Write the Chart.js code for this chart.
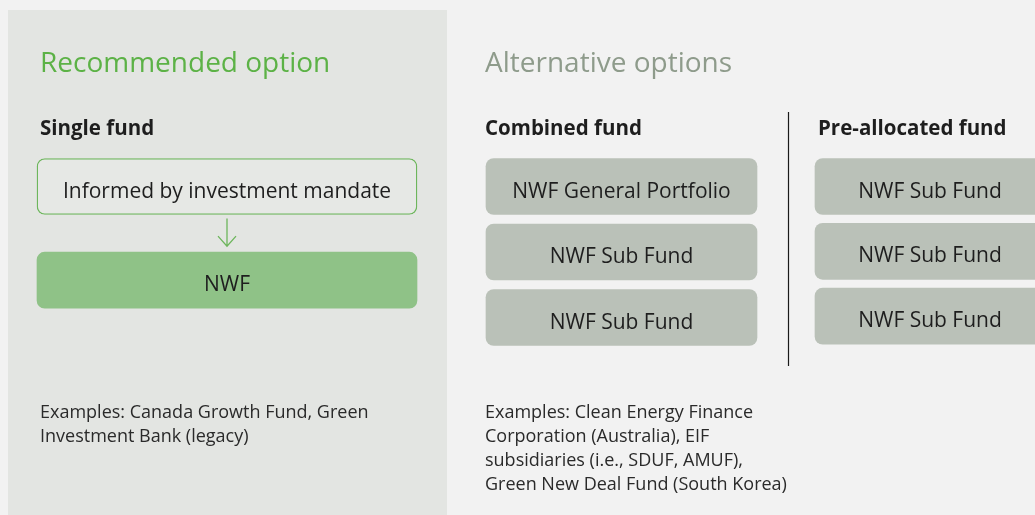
<!DOCTYPE html>
<html><head><meta charset="utf-8">
<script src="https://cdn.jsdelivr.net/npm/chart.js@4"></script>
<style>html,body{margin:0;padding:0;background:#f2f2f2;overflow:hidden}#wrap{width:1035px;height:515px}</style>
</head><body><div id="wrap"><canvas id="c" width="1035" height="515"></canvas></div>
<script>
// ---- content (data) ----
const sectionTitles = ['Recommended option', 'Alternative options'];
const columnHeaders = ['Single fund', 'Combined fund', 'Pre-allocated fund'];
const singleFundBoxes = ['Informed by investment mandate', 'NWF'];
const singleFundRows = [0, 1.43];
const combinedFundBoxes = ['NWF General Portfolio', 'NWF Sub Fund', 'NWF Sub Fund'];
const combinedFundRows = [0, 1, 2];
const preAllocatedBoxes = ['NWF Sub Fund', 'NWF Sub Fund', 'NWF Sub Fund'];
const preAllocatedRows = [0, 0.99, 1.98];
const singleFundExamples = ['Examples: Canada Growth Fund, Green', 'Investment Bank (legacy)'];
const alternativeExamples = ['Examples: Clean Energy Finance', 'Corporation (Australia), EIF', 'subsidiaries (i.e., SDUF, AMUF),', 'Green New Deal Fund (South Korea)'];

// ---- layout & style (kept apart from the data) ----
const layout = {
  width: 1035, height: 515,
  rowZero: 186.5, rowStep: 65.5,
  columns: [[37, 417], [486, 757], [815, 1045]],
  panel: { x0: 8, x1: 447, top: 10 },
  titleX: [40, 485], titleBase: 72,
  headerX: [40, 485, 818], headerBase: 135,
  exampleX: [40, 485], exampleBase: 418, exampleLine: 24,
  dividerX: 788, dividerTop: 112, dividerBottom: 366,
  boxThickness: 56, labelDrop: 11
};
const style = {
  page: '#f2f2f2', panel: '#e3e5e2', green: '#5cb246', altTitle: '#8e9b8b',
  gray: '#bac1b8', nwf: '#8fc287', outline: '#6db65c', innerFill: '#e6e8e5',
  text: '#1e1e1e', divider: '#1a1a1a', family: '"Open Sans", "Noto Sans", sans-serif',
  titleSize: 28, headerSize: 20.5, boxSize: 21, exampleSize: 18
};

function toPoints(labels, rows, col) {
  return labels.map((l, i) => ({ x: layout.columns[col], y: rows[i] }));
}

const datasets = [
  { label: 'Single fund', boxLabels: singleFundBoxes, data: toPoints(singleFundBoxes, singleFundRows, 0),
    backgroundColor: [style.innerFill, style.nwf], borderColor: [style.outline, style.nwf], borderWidth: [1.3, 0] },
  { label: 'Combined fund', boxLabels: combinedFundBoxes, data: toPoints(combinedFundBoxes, combinedFundRows, 1),
    backgroundColor: style.gray, borderWidth: 0 },
  { label: 'Pre-allocated fund', boxLabels: preAllocatedBoxes, data: toPoints(preAllocatedBoxes, preAllocatedRows, 2),
    backgroundColor: style.gray, borderWidth: 0 }
].map(d => Object.assign(d, { stack: 'all', borderRadius: 8, borderSkipped: false, barThickness: layout.boxThickness }));

const decor = {
  id: 'decor',
  beforeDraw(chart) {
    const { ctx } = chart, xs = chart.scales.x;
    ctx.save();
    ctx.fillStyle = style.page;
    ctx.fillRect(0, 0, chart.width, chart.height);
    const px0 = xs.getPixelForValue(layout.panel.x0), px1 = xs.getPixelForValue(layout.panel.x1);
    ctx.fillStyle = style.panel;
    ctx.fillRect(px0, layout.panel.top, px1 - px0, chart.height - layout.panel.top);
    ctx.restore();
  },
  afterDatasetsDraw(chart) {
    const { ctx } = chart, xs = chart.scales.x;
    ctx.save();
    // labels inside boxes
    ctx.textAlign = 'center'; ctx.textBaseline = 'alphabetic';
    ctx.fillStyle = style.text;
    ctx.font = `${style.boxSize}px ${style.family}`;
    chart.data.datasets.forEach((ds, di) => {
      chart.getDatasetMeta(di).data.forEach((el, i) => {
        const cx = (el.x + el.base) / 2;
        ctx.fillText(ds.boxLabels[i], cx, el.y + layout.labelDrop);
      });
    });
    // arrow between single-fund boxes
    const m = chart.getDatasetMeta(0).data;
    const ax = (m[0].x + m[0].base) / 2;
    const ay0 = m[0].y + m[0].height / 2 + 4, ay1 = m[1].y - m[1].height / 2 - 6;
    ctx.strokeStyle = style.outline; ctx.lineWidth = 1.3;
    ctx.beginPath();
    ctx.moveTo(ax, ay0); ctx.lineTo(ax, ay1);
    ctx.moveTo(ax - 9, ay1 - 10); ctx.lineTo(ax, ay1); ctx.lineTo(ax + 9, ay1 - 10);
    ctx.stroke();
    // divider
    const dx = Math.round(xs.getPixelForValue(layout.dividerX)) + 0.5;
    ctx.strokeStyle = style.divider; ctx.lineWidth = 1.2;
    ctx.beginPath(); ctx.moveTo(dx, layout.dividerTop); ctx.lineTo(dx, layout.dividerBottom); ctx.stroke();
    // titles
    ctx.textAlign = 'left';
    ctx.font = `${style.titleSize}px ${style.family}`;
    [style.green, style.altTitle].forEach((c, i) => {
      ctx.fillStyle = c;
      ctx.fillText(sectionTitles[i], xs.getPixelForValue(layout.titleX[i]), layout.titleBase);
    });
    // headers
    ctx.fillStyle = style.text;
    ctx.font = `bold ${style.headerSize}px ${style.family}`;
    columnHeaders.forEach((h, i) => ctx.fillText(h, xs.getPixelForValue(layout.headerX[i]), layout.headerBase));
    // examples
    ctx.font = `${style.exampleSize}px ${style.family}`;
    ctx.fillStyle = '#2a2a2a';
    [singleFundExamples, alternativeExamples].forEach((lines, i) => {
      lines.forEach((t, j) => ctx.fillText(t, xs.getPixelForValue(layout.exampleX[i]), layout.exampleBase + j * layout.exampleLine));
    });
    ctx.restore();
  }
};

new Chart(document.getElementById('c'), {
  type: 'bar',
  data: { datasets },
  options: {
    indexAxis: 'y', responsive: false, animation: false,
    layout: { padding: 0 },
    scales: {
      x: { type: 'linear', min: 0, max: layout.width, stacked: false, display: false, offset: false },
      y: { type: 'linear', reverse: true, stacked: true, display: false, offset: false,
           min: -layout.rowZero / layout.rowStep, max: (layout.height - layout.rowZero) / layout.rowStep }
    },
    plugins: { legend: { display: false }, tooltip: { enabled: false } },
    events: []
  },
  plugins: [decor]
});
</script></body></html>
